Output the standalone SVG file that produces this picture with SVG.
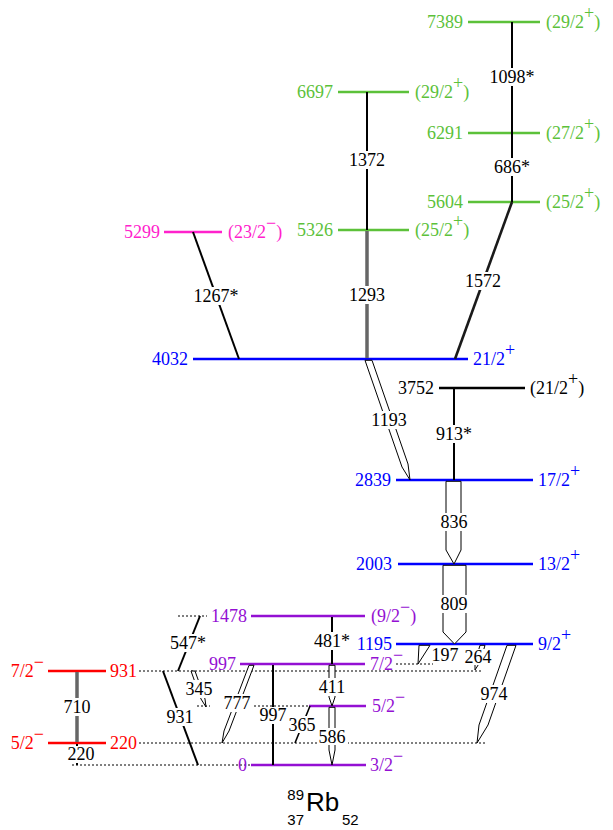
<svg xmlns="http://www.w3.org/2000/svg" width="613" height="830" viewBox="0 0 613 830">
<style>
.t{font-family:"Liberation Serif","Times New Roman",serif;font-size:18px}
.e{text-anchor:end}
.m{text-anchor:middle}
.lv{stroke-width:2.5;fill:none}
.G{stroke:#5cc13a}.Gt{fill:#5cc13a}
.M{stroke:#ff22cc}.Mt{fill:#ff22cc}
.B{stroke:#0000ff}.Bt{fill:#0000ff}
.P{stroke:#9410d3}.Pt{fill:#9410d3}
.R{stroke:#ff0000}.Rt{fill:#ff0000}
.K{stroke:#000}.Kt{fill:#000}
.dot{stroke:#000;stroke-width:1;stroke-dasharray:2 2;fill:none}
.tr{stroke:#000;stroke-width:2;fill:none}
.gr{stroke:#666;stroke-width:3.5;fill:none}
.oa{fill:#fff;stroke:#000;stroke-width:1}
.bg{fill:#fff}
.sans{font-family:"Liberation Sans",Arial,sans-serif}
</style>
<rect width="613" height="830" fill="#fff"/>
<g id="levels">
<g id="lvl-7389"><line class="lv G" x1="468" y1="22" x2="540" y2="22"/><text class="t e Gt" x="463" y="28">7389</text><text class="t Gt" x="546" y="28">(29/2<tspan dy="-9">+</tspan><tspan dy="9">)</tspan></text></g>
<g id="lvl-6697"><line class="lv G" x1="338" y1="92" x2="409" y2="92"/><text class="t e Gt" x="333" y="98">6697</text><text class="t Gt" x="415" y="98">(29/2<tspan dy="-9">+</tspan><tspan dy="9">)</tspan></text></g>
<g id="lvl-6291"><line class="lv G" x1="468" y1="133" x2="540" y2="133"/><text class="t e Gt" x="463" y="139">6291</text><text class="t Gt" x="546" y="139">(27/2<tspan dy="-9">+</tspan><tspan dy="9">)</tspan></text></g>
<g id="lvl-5604"><line class="lv G" x1="468" y1="202" x2="540" y2="202"/><text class="t e Gt" x="463" y="208">5604</text><text class="t Gt" x="546" y="208">(25/2<tspan dy="-9">+</tspan><tspan dy="9">)</tspan></text></g>
<g id="lvl-5326"><line class="lv G" x1="338" y1="230" x2="409" y2="230"/><text class="t e Gt" x="333" y="236">5326</text><text class="t Gt" x="415" y="236">(25/2<tspan dy="-9">+</tspan><tspan dy="9">)</tspan></text></g>
<g id="lvl-5299"><line class="lv M" x1="164" y1="232" x2="222" y2="232"/><text class="t e Mt" x="160" y="238">5299</text><text class="t Mt" x="228" y="238">(23/2<tspan dy="-9">−</tspan><tspan dy="9">)</tspan></text></g>
<g id="lvl-4032"><line class="lv B" x1="193" y1="359" x2="468" y2="359"/><text class="t e Bt" x="188" y="365">4032</text><text class="t Bt" x="473" y="365">21/2<tspan dy="-9">+</tspan></text></g>
<g id="lvl-3752"><line class="lv K" x1="439" y1="388" x2="525" y2="388"/><text class="t e Kt" x="434" y="394">3752</text><text class="t Kt" x="530" y="394">(21/2<tspan dy="-9">+</tspan><tspan dy="9">)</tspan></text></g>
<g id="lvl-2839"><line class="lv B" x1="396" y1="480" x2="533" y2="480"/><text class="t e Bt" x="391" y="486">2839</text><text class="t Bt" x="538" y="486">17/2<tspan dy="-9">+</tspan></text></g>
<g id="lvl-2003"><line class="lv B" x1="398" y1="564" x2="533" y2="564"/><text class="t e Bt" x="392" y="570">2003</text><text class="t Bt" x="538" y="570">13/2<tspan dy="-9">+</tspan></text></g>
<g id="lvl-1478"><line class="dot" x1="178" y1="616" x2="207" y2="616"/><line class="lv P" x1="251" y1="616" x2="365" y2="616"/><text class="t e Pt" x="247" y="622">1478</text><text class="t Pt" x="371" y="622">(9/2<tspan dy="-9">−</tspan><tspan dy="9">)</tspan></text></g>
<g id="lvl-1195"><line class="lv B" x1="396" y1="644" x2="533" y2="644"/><text class="t e Bt" x="392" y="650">1195</text><text class="t Bt" x="538" y="650">9/2<tspan dy="-9">+</tspan></text></g>
<g id="lvl-997"><line class="dot" x1="396" y1="664" x2="433" y2="664"/><line class="lv P" x1="240" y1="664" x2="365" y2="664"/><text class="t e Pt" x="236" y="670">997</text><text class="t Pt" x="370" y="670">7/2<tspan dy="-9">−</tspan></text></g>
<g id="lvl-931"><line class="dot" x1="139" y1="671" x2="483" y2="671"/><line class="lv R" x1="48" y1="671" x2="106" y2="671"/><text class="t e Rt" x="44" y="677">7/2<tspan dy="-9">−</tspan></text><text class="t Rt" x="110" y="677">931</text></g>
<g id="lvl-586"><line class="dot" x1="197" y1="706" x2="210" y2="706"/><line class="dot" x1="250" y1="706" x2="309" y2="706"/><line class="lv P" x1="309" y1="706" x2="366" y2="706"/><text class="t Pt" x="372" y="712">5/2<tspan dy="-9">−</tspan></text></g>
<g id="lvl-220"><line class="dot" x1="139" y1="743" x2="485" y2="743"/><line class="lv R" x1="48" y1="743" x2="106" y2="743"/><text class="t e Rt" x="44" y="749">5/2<tspan dy="-9">−</tspan></text><text class="t Rt" x="110" y="749">220</text></g>
<g id="lvl-0"><line class="dot" x1="72" y1="765" x2="251" y2="765"/><line class="lv P" x1="251" y1="765" x2="366" y2="765"/><text class="t e Pt" x="247" y="771">0</text><text class="t Pt" x="370" y="771">3/2<tspan dy="-9">−</tspan></text></g>
</g>
<g id="transitions">
<g id="g1098"><line class="tr" x1="512" y1="22" x2="512" y2="133"/><rect class="bg" x="488" y="68" width="48" height="18"/><text class="t m" x="512" y="83">1098*</text></g>
<g id="g686"><line class="tr" x1="512" y1="133" x2="512" y2="202"/><rect class="bg" x="492" y="158" width="40" height="18"/><text class="t m" x="512" y="173">686*</text></g>
<g id="g1372"><line class="tr" x1="367" y1="92" x2="367" y2="230"/><rect class="bg" x="347" y="151" width="40" height="18"/><text class="t m" x="367" y="166">1372</text></g>
<g id="g1293"><line class="gr" x1="367" y1="231" x2="367" y2="358"/><rect class="bg" x="347" y="286" width="40" height="18"/><text class="t m" x="367" y="301">1293</text></g>
<g id="g1572"><line class="tr" x1="512" y1="202" x2="455" y2="359" style="stroke-width:2.6;stroke:#1a1a1a"/><rect class="bg" x="463" y="272" width="40" height="18"/><text class="t m" x="483" y="287">1572</text></g>
<g id="g1267"><line class="tr" x1="193" y1="232" x2="239" y2="359"/><rect class="bg" x="192" y="287" width="48" height="18"/><text class="t m" x="216" y="302">1267*</text></g>
<g id="g1193"><path class="oa" d="M365,360.3 L402,467 L410,480 L408,464 L372,360.3 Z"/><rect class="bg" x="369" y="411" width="40" height="18"/><text class="t m" x="389" y="426">1193</text></g>
<g id="g913"><line class="tr" x1="454" y1="388" x2="454" y2="480"/><rect class="bg" x="434" y="425" width="40" height="18"/><text class="t m" x="454" y="440">913*</text></g>
<g id="g836"><path class="oa" d="M446,481.3 L446,550 L454,564 L461,550 L461,481.3 Z"/><rect class="bg" x="438" y="513" width="32" height="18"/><text class="t m" x="454" y="528">836</text></g>
<g id="g809"><path class="oa" d="M443,565.3 L443,632 L454.5,644 L466,632 L466,565.3 Z"/><rect class="bg" x="438" y="595" width="32" height="18"/><text class="t m" x="454" y="610">809</text></g>
<g id="g547"><line class="tr" x1="200" y1="616" x2="178" y2="671"/><rect class="bg" x="169" y="634" width="38" height="18"/><text class="t m" x="188" y="649">547*</text></g>
<g id="g481"><line class="tr" x1="332" y1="617" x2="332" y2="664"/><rect class="bg" x="313" y="632" width="38" height="18"/><text class="t m" x="332" y="647">481*</text></g>
<g id="g411"><path class="oa" d="M329,665.3 L329,697 L332,706 L335,697 L335,665.3 Z"/><rect class="bg" x="317" y="678" width="30" height="18"/><text class="t m" x="332" y="693">411</text></g>
<g id="g586"><path class="oa" d="M329,707.3 L329,750 L332,765 L335,750 L335,707.3 Z"/><rect class="bg" x="317" y="728" width="31" height="17"/><text class="t m" x="332" y="743">586</text></g>
<g id="g997"><line class="tr" x1="273" y1="665" x2="273" y2="765"/><rect class="bg" x="258" y="707" width="30" height="17"/><text class="t m" x="273" y="721">997</text></g>
<g id="g365"><line class="tr" x1="310" y1="706" x2="295" y2="743" style="stroke-width:1.6"/><rect class="bg" x="287" y="716" width="30" height="17"/><text class="t m" x="302" y="731">365</text></g>
<g id="g777"><path class="oa" d="M249,665.3 L224,731 L222,743 L229,731 L254,665.3 Z"/><rect class="bg" x="222" y="694" width="31" height="18"/><text class="t m" x="237" y="709">777</text></g>
<g id="g931"><line class="tr" x1="163" y1="671" x2="198" y2="765"/><rect class="bg" x="165" y="708" width="30" height="18"/><text class="t m" x="180" y="723">931</text></g>
<g id="g345"><path class="oa" d="M191,671 L201,699 L206,707 L205,699 L195,671 Z"/><rect class="bg" x="184" y="680" width="30" height="18"/><text class="t m" x="199" y="695">345</text></g>
<g id="g710"><line class="gr" x1="77" y1="672" x2="77" y2="742"/><rect class="bg" x="62" y="698" width="30" height="18"/><text class="t m" x="77" y="713">710</text></g>
<g id="g220"><line class="tr" x1="77" y1="744" x2="77" y2="765"/><rect class="bg" x="66" y="746" width="31" height="17"/><text class="t m" x="81" y="760">220</text></g>
<g id="g197"><path class="oa" d="M419,645.3 L418,664 L430,645.3 Z"/><rect class="bg" x="431" y="647" width="29" height="16"/><text class="t m" x="445" y="661">197</text></g>
<g id="g264"><path class="oa" d="M480,645.3 L475,662 L475,670 L480,662 L485,645.3 Z"/><rect class="bg" x="464" y="649" width="29" height="16"/><text class="t m" x="478" y="663">264</text></g>
<g id="g974"><path class="oa" d="M507,645.3 L479,725 L477,743 L488,725 L516,645.3 Z"/><rect class="bg" x="479" y="685" width="30" height="18"/><text class="t m" x="494" y="700">974</text></g>
</g>
<g id="title"><text class="sans e" x="304" y="800" font-size="15">89</text><text class="sans e" x="304" y="825" font-size="15">37</text><text class="sans" x="306" y="811" font-size="26">Rb</text><text class="sans" x="342" y="825" font-size="15">52</text></g>
</svg>
